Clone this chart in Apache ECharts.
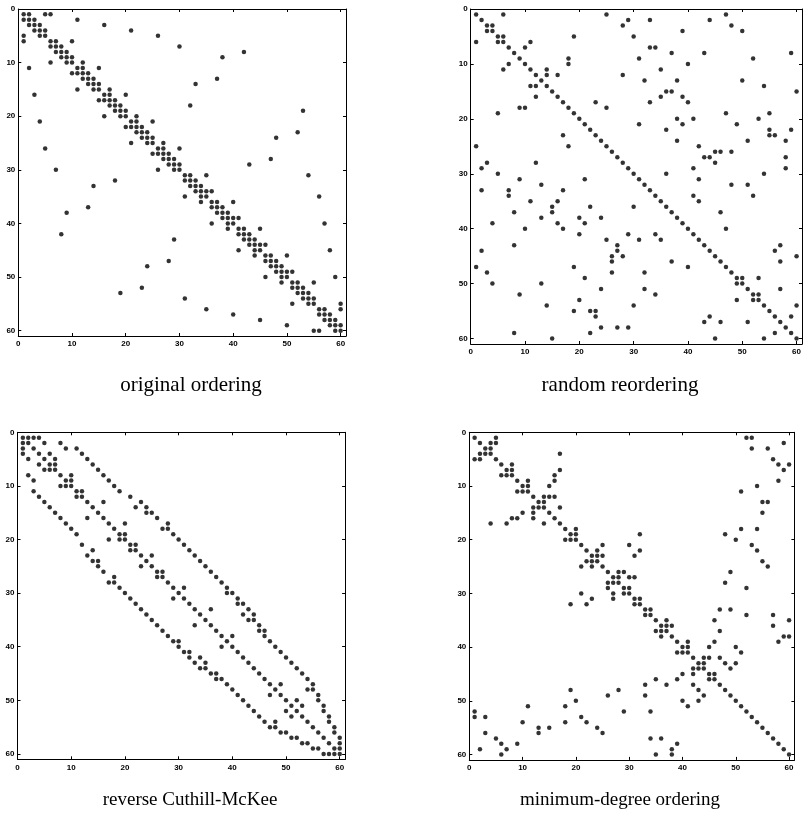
<!DOCTYPE html>
<html><head><meta charset="utf-8">
<script src="https://cdn.jsdelivr.net/npm/echarts@6/dist/echarts.min.js"></script>
<style>html,body{margin:0;padding:0;background:#fff}#c{width:805px;height:822px}</style>
</head><body><div id="c"></div><script>
// Tick values shown on every axis
const tickValues = [0, 10, 20, 30, 40, 50, 60];
const captions = ['original ordering', 'random reordering', 'reverse Cuthill-McKee', 'minimum-degree ordering'];

// Nonzero column indices of each row (row 1..60)
const originalRows = [
 [1,2,5,6],[1,2,3,11],[2,3,4,16],[3,4,5,21],[1,4,5,26],
 [1,6,7,10],[6,7,8,30],[7,8,9,42],[8,9,10,38],[6,9,10,12],
 [2,11,12,15],[10,11,12,13],[12,13,14,37],[13,14,15,33],[11,14,15,17],
 [3,16,17,20],[15,16,17,18],[17,18,19,32],[18,19,20,53],[16,19,20,22],
 [4,21,22,25],[20,21,22,23],[22,23,24,52],[23,24,25,48],[21,24,25,27],
 [5,26,27,30],[25,26,27,28],[27,28,29,47],[28,29,30,43],[7,26,29,30],
 [31,32,35,54],[18,31,32,33],[14,32,33,34],[33,34,35,36],[31,34,35,56],
 [34,36,37,40],[13,36,37,38],[9,37,38,39],[38,39,40,41],[36,39,40,57],
 [39,41,42,45],[8,41,42,43],[29,42,43,44],[43,44,45,46],[41,44,45,58],
 [44,46,47,50],[28,46,47,48],[24,47,48,49],[48,49,50,51],[46,49,50,59],
 [49,51,52,55],[23,51,52,53],[19,52,53,54],[31,53,54,55],[51,54,55,60],
 [35,56,57,60],[40,56,57,58],[45,57,58,59],[50,58,59,60],[55,56,59,60]
];
const randomRows = [
 [1,6,25,47],[2,29,33,44],[3,4,28,48],[3,4,39,50],[5,6,19,30],
 [1,5,6,11],[7,10,33,34],[8,37,43,59],[9,18,31,52],[7,10,18,40],
 [6,11,14,35],[12,14,16,28],[13,32,38,50],[11,12,14,54],[15,36,37,60],
 [12,16,35,39],[17,23,33,40],[9,10,18,25],[5,19,47,55],[20,38,41,53],
 [21,31,39,49],[22,36,55,59],[17,23,55,56],[24,38,51,58],[1,18,25,42],
 [26,45,46,48],[27,43,44,58],[3,12,28,45],[2,29,41,58],[5,30,36,54],
 [9,21,31,42],[13,32,48,51],[2,7,17,33],[7,34,41,52],[11,16,35,42],
 [15,22,30,36],[8,15,37,46],[13,20,24,38],[4,16,21,39],[10,17,40,47],
 [20,29,34,41],[25,31,35,42],[8,27,43,57],[2,27,44,56],[26,28,45,60],
 [26,37,46,57],[1,19,40,47],[3,26,32,48],[21,49,50,53],[4,13,49,50],
 [24,32,51,57],[9,34,52,53],[20,49,52,53],[14,30,54,60],[19,22,23,55],
 [23,44,56,59],[43,46,51,57],[24,27,29,58],[8,22,56,59],[15,45,54,60]
];
const rcmRows = [
 [1,2,3,4],[1,2,5,8],[1,3,9,11],[1,4,6,12],[2,5,7,13],
 [4,6,7,14],[5,6,7,15],[2,8,10,16],[3,9,10,17],[8,9,10,18],
 [3,11,12,19],[4,11,12,21],[5,13,16,23],[6,14,22,24],[7,15,24,25],
 [8,13,16,26],[9,17,20,28],[10,18,27,28],[11,19,20,29],[17,19,20,30],
 [12,21,22,31],[14,21,22,32],[13,23,25,33],[14,15,24,34],[15,23,25,35],
 [16,26,27,36],[18,26,27,37],[17,18,28,38],[19,29,31,39],[20,30,39,40],
 [21,29,31,41],[22,32,41,42],[23,33,36,43],[24,34,42,44],[25,35,43,44],
 [26,33,36,45],[27,37,45,46],[28,38,40,46],[29,30,39,47],[30,38,40,48],
 [31,32,41,49],[32,34,42,50],[33,35,43,51],[34,35,44,52],[36,37,45,53],
 [37,38,46,54],[39,47,49,55],[40,48,54,55],[41,47,49,56],[42,50,52,56],
 [43,51,53,57],[44,50,52,57],[45,51,53,58],[46,48,54,58],[47,48,55,59],
 [49,50,56,59],[51,52,57,60],[53,54,58,60],[55,56,59,60],[57,58,59,60]
];
const minDegreeRows = [
 [1,5,52,53],[2,4,5,59],[3,4,53,56],[2,3,4,17],[1,2,5,57],
 [6,8,58,60],[7,8,17,59],[6,7,8,16],[9,11,16,58],[10,11,15,54],
 [9,10,11,51],[12,14,15,16],[13,14,55,56],[12,13,14,17],[10,12,15,55],
 [8,9,12,16],[4,7,14,17],[18,20,51,54],[19,20,32,48],[18,19,20,50],
 [21,25,30,53],[22,24,32,54],[23,24,25,31],[22,23,24,55],[21,23,25,56],
 [26,28,29,49],[27,28,30,31],[26,27,28,48],[26,29,30,52],[21,27,29,30],
 [23,27,31,32],[19,22,31,32],[33,34,47,49],[33,34,52,57],[35,37,46,60],
 [36,37,38,57],[35,36,37,47],[36,38,59,60],[39,41,46,58],[40,41,45,50],
 [39,40,41,51],[42,44,45,47],[43,44,48,50],[42,43,44,49],[40,42,45,46],
 [35,39,45,46],[33,37,42,47],[19,28,43,48],[26,33,44,49],[20,40,43,50],
 [11,18,41,51],[1,29,34,52],[1,3,21,53],[10,18,22,54],[13,15,24,55],
 [3,13,25,56],[5,34,36,57],[6,9,39,58],[2,7,38,59],[6,35,38,60]
];
const matrices = [originalRows, randomRows, rcmRows, minDegreeRows];

// Layout (pixels)
const boxes = [
 {left:18.3, top:9, width:327.7, height:327, cx:191, cy:385, fs:21},
 {left:470.7, top:9, width:334, height:335, cx:620, cy:385, fs:21},
 {left:17.5, top:432.3, width:327.6, height:327, cx:190, cy:800, fs:19},
 {left:469.3, top:432.3, width:325.1, height:327.6, cx:620, cy:800, fs:19}
];

function toPoints(rows){
  const pts = [];
  rows.forEach(function(cols, r){ cols.forEach(function(c){ pts.push([c, r + 1]); }); });
  return pts;
}

const lineStyle = {color:'#000', width:1};
const labelStyle = {color:'#000', fontSize:8, fontWeight:'bold', fontFamily:'Liberation Sans, Arial, sans-serif'};
function fmt(v){ return tickValues.indexOf(v) >= 0 ? String(v) : ''; }

const grid = [], xAxis = [], yAxis = [], series = [], graphic = [];
boxes.forEach(function(b, i){
  grid.push({left:b.left, top:b.top, width:b.width, height:b.height, containLabel:false});
  const common = {type:'value', min:0, max:61, interval:10, gridIndex:i,
    axisLine:{show:true, onZero:false, lineStyle:lineStyle},
    axisTick:{show:true, inside:true, length:3, lineStyle:lineStyle},
    splitLine:{show:false}};
  xAxis.push(Object.assign({}, common, {position:'bottom',
    axisLabel:Object.assign({show:true, margin:4, formatter:fmt}, labelStyle)}));
  xAxis.push(Object.assign({}, common, {position:'top', axisLabel:{show:false}}));
  yAxis.push(Object.assign({}, common, {position:'left', inverse:true,
    axisLabel:Object.assign({show:true, margin:3, formatter:fmt}, labelStyle)}));
  yAxis.push(Object.assign({}, common, {position:'right', inverse:true, axisLabel:{show:false}}));
  series.push({type:'scatter', xAxisIndex:2*i, yAxisIndex:2*i, data:toPoints(matrices[i]),
    symbol:'circle', symbolSize:4.5, itemStyle:{color:'#000'}, silent:true, animation:false});
  graphic.push({type:'text', x:b.cx, y:b.cy, style:{text:captions[i], fill:'#000',
    font:b.fs + 'px "Liberation Serif", "Times New Roman", serif', textAlign:'center', textVerticalAlign:'middle'}});
});

const chart = echarts.init(document.getElementById('c'), null, {renderer:'canvas'});
chart.setOption({animation:false, backgroundColor:'#fff', grid:grid, xAxis:xAxis, yAxis:yAxis, series:series, graphic:graphic});
</script></body></html>
